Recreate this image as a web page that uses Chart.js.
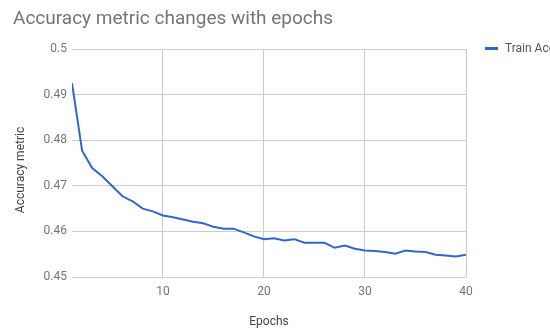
<!DOCTYPE html>
<html>
<head>
<meta charset="utf-8">
<script src="https://cdn.jsdelivr.net/npm/chart.js@4/dist/chart.umd.min.js"></script>
<style>
  html, body { margin: 0; padding: 0; background: #fff; }
  #wrap { width: 550px; height: 331px; }
</style>
</head>
<body>
<div id="wrap"><canvas id="c" width="550" height="331"></canvas></div>
<script>
// Training accuracy per epoch
const epochs = [1, 2, 3, 4, 5, 6, 7, 8, 9, 10,
                11, 12, 13, 14, 15, 16, 17, 18, 19, 20,
                21, 22, 23, 24, 25, 26, 27, 28, 29, 30,
                31, 32, 33, 34, 35, 36, 37, 38, 39, 40];
const trainAccuracy = [0.4925, 0.4777, 0.4739, 0.4721, 0.4699, 0.4677, 0.4666, 0.4650, 0.4644, 0.4635,
                       0.4631, 0.4626, 0.4621, 0.4618, 0.4610, 0.4606, 0.4606, 0.4598, 0.4589, 0.4583,
                       0.4585, 0.4580, 0.4583, 0.4575, 0.4575, 0.4575, 0.4564, 0.4569, 0.4562, 0.4558,
                       0.4557, 0.4555, 0.4551, 0.4558, 0.4556, 0.4555, 0.4549, 0.4547, 0.4545, 0.4549];
const xTicks = [10, 20, 30, 40];
const yTicks = [0.45, 0.46, 0.47, 0.48, 0.49, 0.5];

const chartTitle = 'Accuracy metric changes with epochs';
const xTitle = 'Epochs';
const yTitle = 'Accuracy metric';
const seriesName = 'Train Accuracy';

const FONT = 'Roboto, "Noto Sans", sans-serif';

// Title, axis titles and legend drawn on the canvas
const decorations = {
  id: 'decorations',
  afterDraw(chart) {
    const ctx = chart.ctx;
    const area = chart.chartArea;
    ctx.save();
    ctx.textBaseline = 'middle';

    ctx.fillStyle = '#757575';
    ctx.font = '19px ' + FONT;
    ctx.textAlign = 'left';
    ctx.fillText(chartTitle, 13, 19);

    ctx.fillStyle = '#444';
    ctx.font = '12px ' + FONT;
    ctx.textAlign = 'center';
    ctx.fillText(xTitle, (area.left + area.right) / 2, 322);

    ctx.save();
    ctx.translate(21, 170);
    ctx.rotate(-Math.PI / 2);
    ctx.fillText(yTitle, 0, 0);
    ctx.restore();

    // legend
    ctx.fillStyle = '#3366cc';
    ctx.fillRect(485, 47, 13, 3);
    ctx.fillStyle = '#555';
    ctx.textAlign = 'left';
    ctx.fillText(seriesName, 505, 49);
    ctx.restore();
  }
};

new Chart(document.getElementById('c'), {
  type: 'line',
  data: {
    datasets: [{
      label: seriesName,
      data: epochs.map((e, i) => ({ x: e, y: trainAccuracy[i] })),
      borderColor: '#3366cc',
      borderWidth: 2,
      pointRadius: 0,
      tension: 0,
      fill: false
    }]
  },
  options: {
    responsive: false,
    animation: false,
    layout: { padding: { top: 49, right: 84, left: 0, bottom: 0 } },
    plugins: { legend: { display: false }, title: { display: false }, tooltip: { enabled: false } },
    scales: {
      x: {
        type: 'linear',
        min: 1,
        max: 40,
        afterBuildTicks: s => { s.ticks = xTicks.map(v => ({ value: v })); },
        afterFit: s => { s.height = 331 - 277; },
        grid: { color: '#cccccc', drawTicks: false, lineWidth: 1 },
        border: { display: false },
        ticks: { color: '#757575', font: { family: FONT, size: 12 }, padding: 8, maxRotation: 0 }
      },
      y: {
        type: 'linear',
        min: 0.45,
        max: 0.5,
        afterBuildTicks: s => { s.ticks = yTicks.map(v => ({ value: v })); },
        afterFit: s => { s.width = 72; },
        grid: { color: '#cccccc', drawTicks: false, lineWidth: 1 },
        border: { display: false },
        ticks: {
          color: '#757575',
          font: { family: FONT, size: 12 },
          padding: 5,
          callback: v => String(+Number(v).toFixed(2))
        }
      }
    }
  },
  plugins: [decorations]
});
</script>
</body>
</html>
